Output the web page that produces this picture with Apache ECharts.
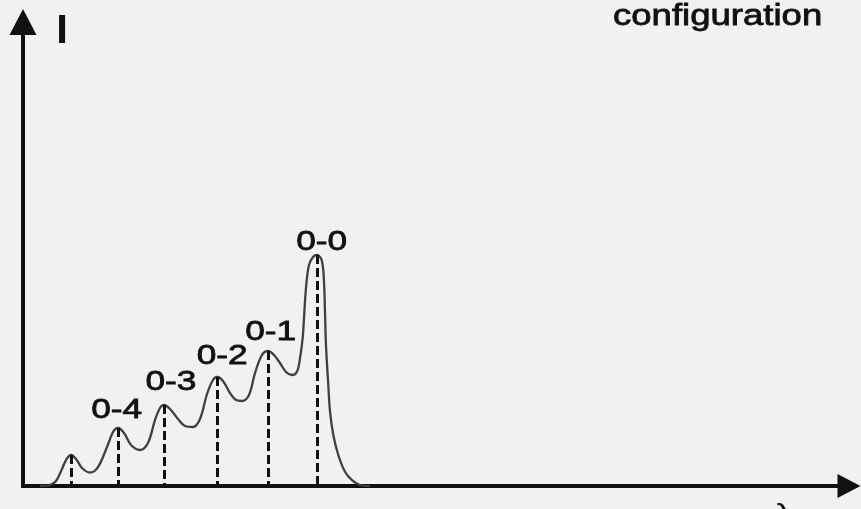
<!DOCTYPE html>
<html>
<head>
<meta charset="utf-8">
<script src="https://cdn.jsdelivr.net/npm/echarts/dist/echarts.min.js"></script>
<style>
html,body{margin:0;padding:0;background:#f1f1f1;}
#chart{width:861px;height:509px;}
</style>
</head>
<body>
<div id="chart"></div>
<script>
// Spectrum curve (arbitrary wavelength units, arbitrary intensity units)
const curveX = [2.06,3.27,4.00,4.72,5.21,5.81,6.42,7.14,8.11,9.08,10.17,10.90,11.50,12.23,13.08,14.16,15.13,15.98,16.59,17.07,17.80,18.77,19.61,20.58,21.43,22.28,23.00,23.49,24.21,25.06,25.79,26.51,27.36,28.09,28.93,29.66,30.39,31.11,31.84,32.57,33.17,33.54,33.86,34.02,34.26,34.62,35.11,35.59,36.16,36.44,36.56,36.68,36.96,37.17,37.57,38.17,38.98,39.83,40.80,42.01];
const curveY = [0,0.22,1.08,3.66,5.60,6.68,5.82,3.88,2.91,4.09,8.41,11.64,12.50,11.42,8.84,7.76,9.27,14.22,16.81,17.46,16.59,14.44,12.93,12.72,14.44,19.83,22.84,23.49,22.63,20.04,18.53,18.32,19.61,24.35,28.23,29.09,28.23,26.51,24.57,23.92,24.63,27.59,31.90,36.21,42.67,47.63,49.35,49.78,48.71,44.03,37.5,30.39,21.77,16.01,10.99,6.68,3.08,1.29,0.22,0];

// Vibronic peaks
const peakX = [5.81,11.50,17.07,23.49,29.66,35.59];
const peakY = [6.68,12.50,17.46,23.49,29.09,49.78];
const peakLabels = ['', '0-4', '0-3', '0-2', '0-1', '0-0'];

// Texts
const yAxisTitle = 'I';
const xAxisTitle = 'λ';
const cornerText = 'configuration';

// label pixel offsets relative to each peak (styling)
const labelOffsets = [[0,0],[-1.3,-18],[7,-22.5],[5.2,-20.5],[2.7,-19],[4.7,-13]];

const chart = echarts.init(document.getElementById('chart'), null, {renderer:'canvas'});

const axisLineStyle = {color:'#111', width:4, cap:'square'};

const option = {
  backgroundColor:'#f1f1f1',
  animation:false,
  grid:{left:23, top:22, right:12, bottom:23, containLabel:false},
  xAxis:{
    type:'value', min:0, max:100,
    axisLine:{show:true, lineStyle:axisLineStyle, symbol:['none','triangle'], symbolSize:[24,23]},
    axisTick:{show:false}, axisLabel:{show:false}, splitLine:{show:false}
  },
  yAxis:{
    type:'value', min:0, max:100,
    axisLine:{show:true, lineStyle:axisLineStyle, symbol:['none','triangle'], symbolSize:[27,26]},
    axisTick:{show:false}, axisLabel:{show:false}, splitLine:{show:false}
  },
  series:[{
    type:'line',
    data: curveX.map((x,i)=>[x, curveY[i]]),
    showSymbol:false,
    smooth:0.35,
    lineStyle:{color:'#404040', width:2.3},
    z:3,
    markLine:{
      silent:true,
      symbol:['none','none'],
      label:{show:false},
      lineStyle:{color:'#111', width:3, type:[9,4]},
      data: peakX.map((x,i)=>[{coord:[x, peakY[i]]},{coord:[x, 0]}])
    }
  }]
};
chart.setOption(option);

const labelFont = '28px "Liberation Sans", Arial, sans-serif';
const graphics = [];
peakLabels.forEach((t,i)=>{
  if(!t) return;
  const p = chart.convertToPixel({gridIndex:0}, [peakX[i], peakY[i]]);
  graphics.push({
    type:'text', x:p[0]+labelOffsets[i][0], y:p[1]+labelOffsets[i][1], scaleX:1.26,
    style:{text:t, x:0, y:0, align:'center', verticalAlign:'middle', font:labelFont, fill:'#111', stroke:'#111', lineWidth:0.8}
  });
});
graphics.push({
  type:'text', x:62, y:32, scaleX:1.05,
  style:{text:yAxisTitle, x:0, y:0, align:'center', verticalAlign:'middle', font:'bold 40px "Liberation Sans", Arial, sans-serif', fill:'#111'}
});
graphics.push({
  type:'text', x:613, y:17, scaleX:1.26,
  style:{text:cornerText, x:0, y:0, align:'left', verticalAlign:'middle', font:'29px "Liberation Sans", Arial, sans-serif', fill:'#111', stroke:'#111', lineWidth:0.8}
});
graphics.push({
  type:'text', x:784, y:517, scaleX:1.26,
  style:{text:xAxisTitle, x:0, y:0, align:'center', verticalAlign:'middle', font:'30px "Liberation Sans", Arial, sans-serif', fill:'#111'}
});
chart.setOption({graphic:graphics});
</script>
</body>
</html>
